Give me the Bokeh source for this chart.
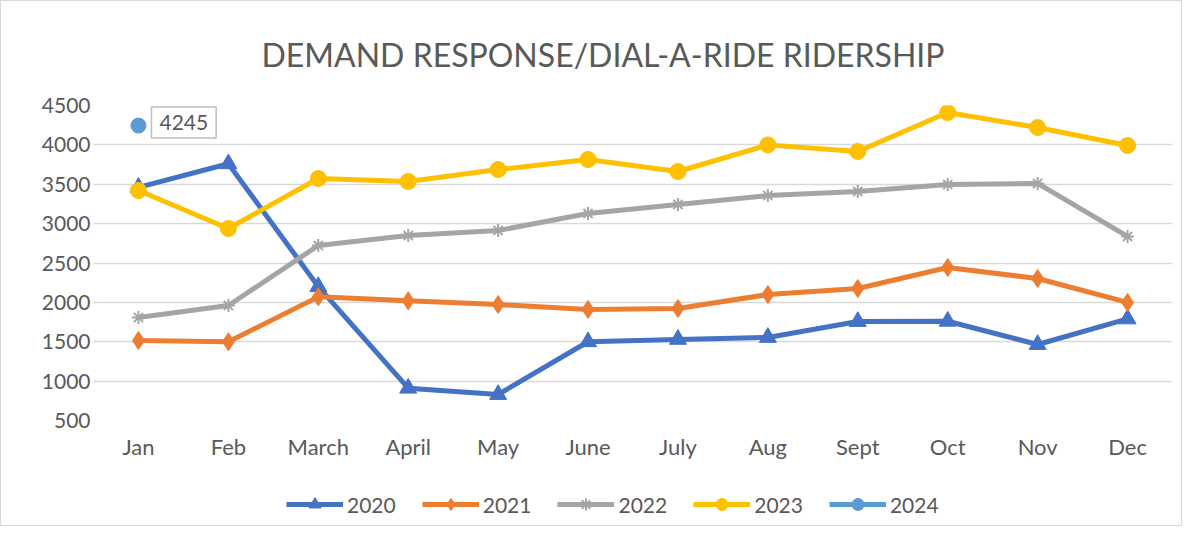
from bokeh.plotting import figure
from bokeh.layouts import column
from bokeh.models import (ColumnDataSource, FactorRange, Range1d, FixedTicker, Legend,
                          LegendItem)
from bokeh.core.properties import value
from bokeh.embed import file_html
from bokeh.resources import INLINE

months = ["Jan", "Feb", "March", "April", "May", "June", "July", "Aug", "Sept", "Oct", "Nov", "Dec"]
y2020 = [3460, 3760, 2200, 910, 830, 1500, 1530, 1555, 1757, 1760, 1465, 1790]
y2021 = [1516, 1500, 2070, 2020, 1973, 1910, 1922, 2100, 2176, 2443, 2303, 2000]
y2022 = [1808, 1960, 2722, 2849, 2913, 3128, 3243, 3357, 3408, 3497, 3510, 2837]
y2023 = [3420, 2938, 3573, 3535, 3687, 3814, 3662, 4000, 3916, 4411, 4221, 3992]
months2024 = ["Jan"]
y2024 = [4245]
yticks = [500, 1000, 1500, 2000, 2500, 3000, 3500, 4000, 4500]

FONT = "Lato"
TXT = "#595959"

p = figure(width=1180, height=470, x_range=FactorRange(*months, range_padding=0),
           y_range=Range1d(500, 4500), output_backend="svg", toolbar_location=None,
           title="DEMAND RESPONSE/DIAL-A-RIDE RIDERSHIP",
           min_border_left=92, min_border_right=9, min_border_top=104, min_border_bottom=51)
p.outline_line_color = None
p.title.align = "left"
p.title.offset = 168
p.title.text_font = FONT
p.title.text_font_size = "32px"
p.title.text_font_style = "normal"
p.title.text_color = TXT
p.title.standoff = 63

p.xgrid.grid_line_color = None
p.ygrid.grid_line_color = "#d9d9d9"
p.ygrid.grid_line_width = 1.5
p.yaxis.ticker = FixedTicker(ticks=yticks)
for ax in (p.xaxis, p.yaxis):
    ax.axis_line_color = None
    ax.major_tick_line_color = None
    ax.minor_tick_line_color = None
    ax.major_tick_out = 0
    ax.major_tick_in = 0
    ax.major_label_text_font = FONT
    ax.major_label_text_color = TXT
p.xaxis.major_label_text_font_size = "22px"
p.yaxis.major_label_text_font_size = "21px"
p.xaxis.major_label_standoff = 12
p.yaxis.major_label_standoff = 3

series = [
    ("2020", y2020, "#4472C4", "triangle", 17),
    ("2021", y2021, "#ED7D31", "diamond", 18),
    ("2022", y2022, "#A5A5A5", "asterisk", 13),
    ("2023", y2023, "#FFC000", "circle", 16),
    ("2024", y2024, "#5B9BD5", "circle", 15),
]

# legend-only figure (separate panel below the chart); its copies of the series fall outside its range
lg = figure(width=1180, height=54, x_range=Range1d(0, 1), y_range=Range1d(0, 1),
            x_axis_location=None, y_axis_location=None,
            output_backend="svg", toolbar_location=None, min_border=0)
lg.grid.visible = False
lg.outline_line_color = None

items = []
for name, vals, col, mk, sz in series:
    xs = months if name != "2024" else months2024
    src = ColumnDataSource(dict(x=xs, y=vals))
    p.line("x", "y", source=src, line_color=col, line_width=5)
    if mk == "asterisk":
        p.scatter("x", "y", source=src, marker=mk, size=sz, line_color=col, line_width=2)
    else:
        p.scatter("x", "y", source=src, marker=mk, size=sz, fill_color=col, line_color=col)
    osrc = ColumnDataSource(dict(x=list(range(len(vals))), y=vals))
    l2 = lg.line("x", "y", source=osrc, line_color=col, line_width=5)
    if mk == "asterisk":
        s2 = lg.scatter("x", "y", source=osrc, marker=mk, size=sz, line_color=col, line_width=2)
    else:
        s2 = lg.scatter("x", "y", source=osrc, marker=mk, size=sz, fill_color=col, line_color=col)
    items.append(LegendItem(label=name, renderers=[l2, s2]))

src24 = ColumnDataSource(dict(x=months2024, y=y2024, t=[str(v) for v in y2024]))
p.text(x="x", y="y", text="t", source=src24, x_offset=13, y_offset=-3,
       text_baseline="middle", text_font=value(FONT), text_font_size="21px", text_color=TXT,
       border_line_color="#bfbfbf", border_line_width=1.5,
       background_fill_color="white", padding=8)

legend = Legend(items=items, orientation="horizontal", location=(193, 6),
                label_text_font=FONT, label_text_font_size="21px", label_text_color=TXT,
                glyph_width=57, glyph_height=30, label_standoff=4, spacing=26,
                border_line_color=None, background_fill_alpha=0, margin=0, padding=0)
lg.add_layout(legend)

layout = column(p, lg, spacing=0, styles={"border": "1.5px solid #d9d9d9"})
open("out.html", "w").write(file_html(layout, INLINE))
